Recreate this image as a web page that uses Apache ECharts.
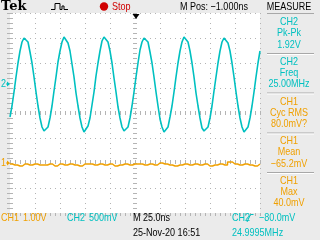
<!DOCTYPE html>
<html><head><meta charset="utf-8">
<script src="https://cdn.jsdelivr.net/npm/echarts@6/dist/echarts.min.js"></script>
<style>html,body{margin:0;padding:0;background:#ebebeb}#c{width:320px;height:240px}</style>
</head><body><div id="c"></div>
<script>
// ---- data ----
const ch2SampleNs = 2;   // CH2 sample spacing (ns)
const ch2Volts = [
 -0.68,-0.46,-0.18,0.12,0.40,0.64,0.82,0.90,0.92,0.82,0.62,0.40,0.12,-0.18,-0.46,-0.70,-0.88,-0.96,-0.98,-0.88,
 -0.70,-0.46,-0.16,0.12,0.42,0.64,0.82,0.92,0.90,0.80,0.64,0.38,0.12,-0.20,-0.46,-0.70,-0.88,-0.98,-0.96,-0.86,
 -0.70,-0.44,-0.18,0.14,0.40,0.64,0.84,0.92,0.90,0.82,0.64,0.40,0.10,-0.18,-0.48,-0.70,-0.88,-0.96,-0.98,-0.88,
 -0.70,-0.46,-0.18,0.12,0.40,0.66,0.82,0.90,0.92,0.82,0.62,0.40,0.12,-0.18,-0.46,-0.72,-0.88,-0.98,-0.96,-0.88,
 -0.68,-0.46,-0.18,0.12,0.40,0.64,0.82,0.92,0.92,0.82,0.64,0.40,0.12,-0.20,-0.46,-0.70,-0.90,-0.96,-0.98,-0.88,
 -0.70,-0.46,-0.16,0.12,0.40,0.64,0.82,0.90,0.92,0.80,0.64,0.40,0.12,-0.18,-0.46,-0.70,-0.88,-0.98,-0.96,-0.88,
 -0.70,-0.46,-0.18,0.12,0.40,0.64
];
const ch1SampleNs = 5;   // CH1 sample spacing (ns)
const ch1Volts = [
 -0.04,-0.08,-0.12,-0.04,-0.08,-0.04,-0.08,-0.08,-0.04,-0.12,
 -0.04,-0.08,-0.04,-0.08,-0.12,-0.04,-0.04,-0.08,-0.04,-0.08,
 -0.04,-0.12,-0.08,-0.04,-0.08,-0.04,-0.04,-0.08,-0.04,-0.08,
  0.00,-0.04,-0.08,-0.12,-0.08,-0.04,-0.08,-0.04,-0.08,-0.04,
 -0.12,-0.08,-0.04,-0.08, 0.04,-0.04,-0.08,-0.04,-0.08,-0.12,
 -0.04
];
const measurements = [
  {ch:'CH2', name:'Pk-Pk',   value:'1.92V'},
  {ch:'CH2', name:'Freq',    value:'25.00MHz'},
  {ch:'CH1', name:'Cyc RMS', value:'80.0mV?'},
  {ch:'CH1', name:'Mean',    value:'\u221265.2mV'},
  {ch:'CH1', name:'Max',     value:'40.0mV'}
];

// ---- styling ----
const CYAN = '#00c0c0', ORANGE = '#f0a000', RED = '#d00000', DOT = '#b4b4b4';
const FONT = '11px "Liberation Sans", Arial, sans-serif';
const NARROW = 0.82;
const TIME_SPAN = 250; // ns (10 div x 25 ns)

function decoX(pos, offset, inside, len, split) {
  return {type:'value', gridIndex:0, position:pos, offset:offset, min:0, max:TIME_SPAN, interval:25,
    axisLine:{show:false}, axisLabel:{show:false},
    splitLine:{show:!!split, lineStyle:{color:DOT, type:[1,4], width:1}},
    axisTick:{show:true, inside:inside, length:len, lineStyle:{color:DOT}},
    minorTick:{show:true, splitNumber:5, length:len, lineStyle:{color:DOT}}};
}
function decoY(pos, offset, inside, len, split, min, max) {
  return {type:'value', gridIndex:0, position:pos, offset:offset, min:min, max:max, interval:1,
    axisLine:{show:false}, axisLabel:{show:false},
    splitLine:{show:!!split, lineStyle:{color:DOT, type:[1,4], width:1}},
    axisTick:{show:true, inside:inside, length:len, lineStyle:{color:DOT}},
    minorTick:{show:true, splitNumber:5, length:len, lineStyle:{color:DOT}}};
}
function T(text, x, y, color, align, font, sx) {
  return {type:'text', x:x, y:y, scaleX:(sx===undefined?NARROW:sx), silent:true, z:100,
    style:{text:text, fill:color, font:font||FONT, textAlign:align||'left', textVerticalAlign:'middle',
           align:align||'left', verticalAlign:'middle'}};
}
function L(x1,y1,x2,y2,color,w) {
  return {type:'line', silent:true, z:100, shape:{x1:x1,y1:y1,x2:x2,y2:y2}, style:{stroke:color, lineWidth:w||1}};
}

const graphics = [];
// top bar
graphics.push(T('Tek', 1, 6.5, '#000', 'left', 'bold 13px "DejaVu Serif", serif', 1));
graphics.push({type:'polyline', silent:true, z:100, shape:{points:[[51,9.5],[55,9.5],[55,3.5],[60,3.5],[60,9.5],[62,9.5],[62,6],[64,6],[64,9.5],[68,9.5]]}, style:{stroke:'#000', lineWidth:1, fill:null}});
graphics.push({type:'circle', silent:true, z:100, shape:{cx:104, cy:6.5, r:4.2}, style:{fill:RED}});
graphics.push(T('Stop', 112, 6.5, RED));
graphics.push(T('M Pos: \u22121.000ns', 180, 6.5, '#000'));
graphics.push(T('MEASURE', 289, 6.5, '#000', 'center'));
graphics.push(L(267, 13.5, 314, 13.5, '#a8a8a8'));
graphics.push({type:'polygon', silent:true, z:100, shape:{points:[[132.5,14],[139.5,14],[136,19]]}, style:{fill:'#000'}});
// measurement panel
const blockTops = [22, 61.5, 101.5, 141, 180.5];
measurements.forEach((m, i) => {
  const c = m.ch === 'CH2' ? CYAN : ORANGE;
  const y0 = blockTops[i];
  graphics.push(T(m.ch, 289, y0, c, 'center'));
  graphics.push(T(m.name, 289, y0 + 11.2, c, 'center'));
  graphics.push(T(m.value, 289, y0 + 22.5, c, 'center'));
  if (i < measurements.length - 1) {
    graphics.push(L(267, y0 + 31.5, 314, y0 + 31.5, '#a8a8a8'));
    graphics.push(L(267, y0 + 32.5, 314, y0 + 32.5, '#ffffff'));
  }
});
// channel ground markers
graphics.push(T('2', 1, 84, CYAN));
graphics.push({type:'polygon', silent:true, z:100, shape:{points:[[7,81.5],[10,84],[7,86.5]]}, style:{fill:CYAN}});
graphics.push(L(6,84,9,84,CYAN));
graphics.push(T('1', 1, 163, ORANGE));
graphics.push({type:'polygon', silent:true, z:100, shape:{points:[[7,160.5],[10,163],[7,165.5]]}, style:{fill:ORANGE}});
graphics.push(L(6,163,9,163,ORANGE));
// bottom status
graphics.push(T('CH1', 1, 218, ORANGE));
graphics.push(T('1.00V', 23, 218, ORANGE));
graphics.push(T('CH2', 67, 218, CYAN));
graphics.push(T('500mV', 89, 218, CYAN));
graphics.push(T('M 25.0ns', 133, 218, '#000'));
graphics.push(T('CH2', 232, 218, CYAN));
graphics.push({type:'polyline', silent:true, z:100, shape:{points:[[247,222],[250.5,214.5],[253.5,214.5]]}, style:{stroke:CYAN, lineWidth:1, fill:null}});
graphics.push(T('\u221280.0mV', 259, 218, CYAN));
graphics.push(T('25-Nov-20 16:51', 133, 233, '#000'));
graphics.push(T('24.9995MHz', 232, 233, CYAN));

const chart = echarts.init(document.getElementById('c'), null, {renderer:'canvas'});
chart.setOption({
  animation:false,
  backgroundColor:'#ebebeb',
  grid:{left:10, top:13, width:250, height:200, show:true, backgroundColor:'#ffffff', borderWidth:0},
  xAxis:[
    decoX('bottom', 0, true, 3, true),   // data time axis (ns)
    decoX('top', 0, true, 3, false),
    decoX('top', -100, true, 2, false),
    decoX('top', -100, false, 2, false)
  ],
  yAxis:[
    decoY('left', 0, true, 3, true, -2, 6),   // CH1 volts, 1 V/div
    decoY('right', 0, true, 3, false, 0, 8),
    decoY('left', -125, true, 2, false, 0, 8),
    decoY('left', -125, false, 2, false, 0, 8),
    {type:'value', gridIndex:0, show:false, min:-2.6, max:1.4}   // CH2 volts, 0.5 V/div
  ],
  series:[
    {type:'line', xAxisIndex:0, yAxisIndex:0, showSymbol:false, step:'middle', z:3,
     data: ch1Volts.map((v,i)=>[i*ch1SampleNs, v]),
     lineStyle:{color:ORANGE, width:1.5}},
    {type:'line', xAxisIndex:0, yAxisIndex:4, showSymbol:false, z:4,
     data: ch2Volts.map((v,i)=>[i*ch2SampleNs, v]),
     lineStyle:{color:CYAN, width:1.6}}
  ],
  graphic: graphics
});
</script></body></html>
